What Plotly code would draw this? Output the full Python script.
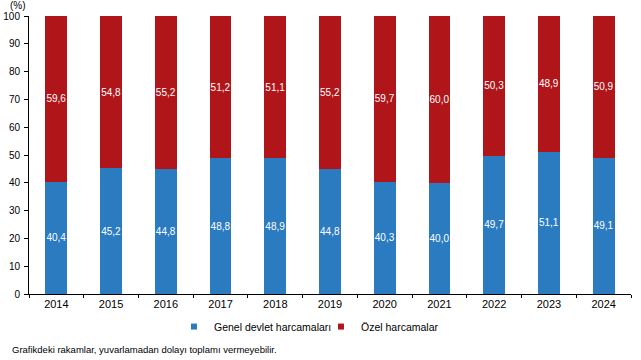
import plotly.graph_objects as go

years = ["2014", "2015", "2016", "2017", "2018", "2019", "2020", "2021", "2022", "2023", "2024"]
genel = [40.4, 45.2, 44.8, 48.8, 48.9, 44.8, 40.3, 40.0, 49.7, 51.1, 49.1]
ozel = [59.6, 54.8, 55.2, 51.2, 51.1, 55.2, 59.7, 60.0, 50.3, 48.9, 50.9]
series_names = ["Genel devlet harcamaları", "Özel harcamalar"]
colors = ["#2B7BC1", "#B0151A"]

def fmt(v):
    return f"{v:.1f}".replace(".", ",")

fig = go.Figure()
for name, vals, col in zip(series_names, [genel, ozel], colors):
    fig.add_trace(go.Bar(
        x=years, y=vals, name=name, marker=dict(color=col, line=dict(width=0)),
        text=[fmt(v) for v in vals], textposition="inside", insidetextanchor="middle",
        textfont=dict(color="white", size=10, family="Liberation Sans, Arial"),
        textangle=0, showlegend=False, hoverinfo="skip"))
for name, col in zip(series_names, colors):
    fig.add_trace(go.Scatter(
        x=[None], y=[None], mode="markers", name=name,
        marker=dict(symbol="square", size=6, color=col), showlegend=True))

fig.update_layout(
    barmode="stack", bargap=0.6,
    width=641, height=360,
    margin=dict(l=29, r=10, t=16, b=66),
    plot_bgcolor="white", paper_bgcolor="white",
    font=dict(family="Liberation Sans, Arial", size=10, color="black"),
    uniformtext=dict(minsize=10, mode="show"),
    xaxis=dict(showline=True, linecolor="black", linewidth=1, ticks="outside",
               tickson="boundaries", ticklen=3, tickcolor="black",
               showgrid=False, tickfont=dict(size=11), automargin=False),
    yaxis=dict(range=[0, 100], dtick=10, showline=True, linecolor="black", linewidth=1,
               ticks="outside", ticklen=4, tickcolor="black", showgrid=False,
               zeroline=False, tickfont=dict(size=10), automargin=False,
               ticklabelstandoff=2),
    legend=dict(orientation="h", x=0.485, xanchor="center", y=-0.065, yanchor="top",
                font=dict(size=10.5), itemwidth=30, traceorder="normal",
                entrywidth=102, entrywidthmode="pixels"),
    annotations=[
        dict(text="(%)", xref="paper", yref="paper", x=-0.018, y=1.0, yshift=3,
             xanchor="center", yanchor="bottom", showarrow=False, font=dict(size=10)),
        dict(text="Grafikdeki rakamlar, yuvarlamadan dolayı toplamı vermeyebilir.",
             xref="paper", yref="paper", x=-0.032, y=0, yshift=-55, xanchor="left",
             yanchor="middle", showarrow=False, font=dict(size=9.5)),
    ],
)

fig.write_html("out.html", config={"displayModeBar": False},
               post_script="document.body.style.margin='0';document.body.style.overflow='hidden';")
